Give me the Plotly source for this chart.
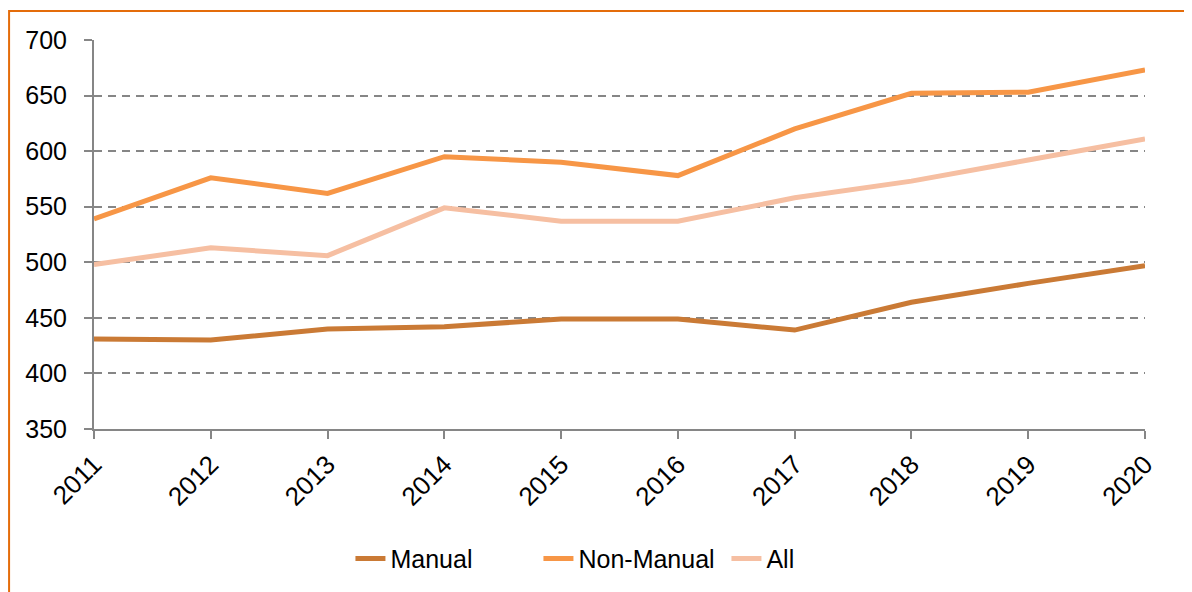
import plotly.graph_objects as go

years = ["2011", "2012", "2013", "2014", "2015", "2016", "2017", "2018", "2019", "2020"]
manual = [431, 430, 440, 442, 449, 449, 439, 464, 481, 497]
non_manual = [539, 576, 562, 595, 590, 578, 620, 652, 653, 673]
all_workers = [498, 513, 506, 549, 537, 537, 558, 573, 592, 611]

font_family = "Tahoma, Liberation Sans, Arial, sans-serif"
axis_grey = "#868686"

fig = go.Figure()
fig.add_trace(go.Scatter(x=years, y=manual, name="Manual", mode="lines",
                         line=dict(color="#CA7A35", width=5)))
fig.add_trace(go.Scatter(x=years, y=non_manual, name="Non-Manual", mode="lines",
                         line=dict(color="#F79646", width=5)))
fig.add_trace(go.Scatter(x=years, y=all_workers, name="All", mode="lines",
                         line=dict(color="#F6BFA2", width=5)))

# page has an 8px body margin, so the figure is a bit smaller than the window
fig.update_layout(
    width=1184, height=584,
    margin=dict(l=86, r=47, t=32, b=162),
    paper_bgcolor="white", plot_bgcolor="white",
    font=dict(family=font_family, size=25, color="black"),
    showlegend=True,
    legend=dict(orientation="h", x=0.244, xanchor="left", y=-0.33, yanchor="middle",
                font=dict(size=25), entrywidth=143, entrywidthmode="pixels"),
    shapes=[dict(type="rect", xref="paper", yref="paper",
                 x0=-0.0808, y0=-0.6, x1=1.2, y1=1.0744,
                 line=dict(color="#E46C0A", width=2), layer="below")],
)
fig.update_xaxes(
    type="category", range=[0, 9], tickangle=-45,
    showline=True, linecolor=axis_grey, linewidth=2,
    ticks="outside", ticklen=8, tickcolor=axis_grey, tickwidth=2,
    showgrid=False, zeroline=False, tickfont=dict(size=26),
)
fig.update_yaxes(
    range=[350, 700], dtick=50,
    showline=True, linecolor=axis_grey, linewidth=2,
    ticks="outside", ticklen=8, tickcolor=axis_grey, tickwidth=2,
    ticklabelstandoff=12,
    showgrid=True, gridcolor=axis_grey, griddash="8px,6px", gridwidth=2,
    zeroline=False, tickfont=dict(size=25),
)

fig.write_html("out.html")
